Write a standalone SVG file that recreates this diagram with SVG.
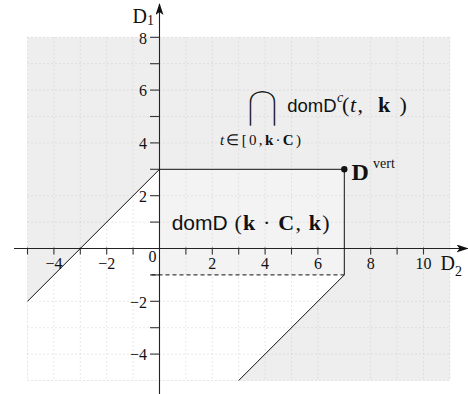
<svg xmlns="http://www.w3.org/2000/svg" width="468" height="394" viewBox="0 0 468 394">
<defs>
<style>
.num{font-family:"Liberation Serif",serif;font-size:16px;fill:#111}
.sf{font-family:"Liberation Sans",sans-serif;fill:#111}
.mr{font-family:"Liberation Serif",serif;fill:#111}
.it{font-style:italic}
.bf{font-weight:bold}
.grid line{stroke:#c8c8c8;stroke-width:0.8;stroke-dasharray:1 3}
.ax{stroke:#222;stroke-width:1.1;fill:none}
.tk{stroke:#333;stroke-width:1.1}
.ln{stroke:#111;stroke-width:1;fill:none}
</style>
<marker id="arr" viewBox="0 0 12 8" refX="11" refY="4" markerWidth="12" markerHeight="8" markerUnits="userSpaceOnUse" orient="auto">
<path d="M0,0 L12,4 L0,8 L3,4 Z" fill="#111"/>
</marker>
</defs>
<g id="regions">
<rect x="27.5" y="37.3" width="422.4" height="343.2" fill="#eeeeee"/>
<polygon points="27.5,301.3 159.5,169.3 159.5,274.9 344.3,274.9 238.7,380.5 27.5,380.5" fill="#ffffff"/>
<rect id="domD" x="159.5" y="169.3" width="184.8" height="105.6" fill="#f3f3f3"/>
</g>
<g class="grid" id="grid">
<line x1="27.5" y1="37.3" x2="27.5" y2="380.5"/><line x1="53.9" y1="37.3" x2="53.9" y2="380.5"/><line x1="80.3" y1="37.3" x2="80.3" y2="380.5"/><line x1="106.7" y1="37.3" x2="106.7" y2="380.5"/><line x1="133.1" y1="37.3" x2="133.1" y2="380.5"/><line x1="185.9" y1="37.3" x2="185.9" y2="380.5"/><line x1="212.3" y1="37.3" x2="212.3" y2="380.5"/><line x1="238.7" y1="37.3" x2="238.7" y2="380.5"/><line x1="265.1" y1="37.3" x2="265.1" y2="380.5"/><line x1="291.5" y1="37.3" x2="291.5" y2="380.5"/><line x1="317.9" y1="37.3" x2="317.9" y2="380.5"/><line x1="370.7" y1="37.3" x2="370.7" y2="380.5"/><line x1="397.1" y1="37.3" x2="397.1" y2="380.5"/><line x1="423.5" y1="37.3" x2="423.5" y2="380.5"/><line x1="449.9" y1="37.3" x2="449.9" y2="380.5"/>
<line x1="27.5" y1="37.3" x2="449.9" y2="37.3"/><line x1="27.5" y1="63.7" x2="449.9" y2="63.7"/><line x1="27.5" y1="90.1" x2="449.9" y2="90.1"/><line x1="27.5" y1="116.5" x2="449.9" y2="116.5"/><line x1="27.5" y1="142.9" x2="449.9" y2="142.9"/><line x1="27.5" y1="195.7" x2="449.9" y2="195.7"/><line x1="27.5" y1="222.1" x2="449.9" y2="222.1"/><line x1="27.5" y1="301.3" x2="449.9" y2="301.3"/><line x1="27.5" y1="327.7" x2="449.9" y2="327.7"/><line x1="27.5" y1="354.1" x2="449.9" y2="354.1"/><line x1="27.5" y1="380.5" x2="449.9" y2="380.5"/>
</g>
<g id="axes">
<line class="ax" x1="14" y1="248.5" x2="467.5" y2="248.5" marker-end="url(#arr)"/>
<line class="ax" x1="159.5" y1="394" x2="159.5" y2="4" marker-end="url(#arr)"/>
<g class="tk">
<line x1="27.5" y1="247.5" x2="27.5" y2="254.5"/><line x1="53.9" y1="247.5" x2="53.9" y2="254.5"/><line x1="80.3" y1="247.5" x2="80.3" y2="254.5"/><line x1="106.7" y1="247.5" x2="106.7" y2="254.5"/><line x1="133.1" y1="247.5" x2="133.1" y2="254.5"/><line x1="185.9" y1="247.5" x2="185.9" y2="254.5"/><line x1="212.3" y1="247.5" x2="212.3" y2="254.5"/><line x1="238.7" y1="247.5" x2="238.7" y2="254.5"/><line x1="265.1" y1="247.5" x2="265.1" y2="254.5"/><line x1="291.5" y1="247.5" x2="291.5" y2="254.5"/><line x1="317.9" y1="247.5" x2="317.9" y2="254.5"/><line x1="370.7" y1="247.5" x2="370.7" y2="254.5"/><line x1="397.1" y1="247.5" x2="397.1" y2="254.5"/><line x1="423.5" y1="247.5" x2="423.5" y2="254.5"/>
<line x1="150" y1="37.3" x2="159.5" y2="37.3"/><line x1="150" y1="63.7" x2="159.5" y2="63.7"/><line x1="150" y1="90.1" x2="159.5" y2="90.1"/><line x1="150" y1="116.5" x2="159.5" y2="116.5"/><line x1="150" y1="142.9" x2="159.5" y2="142.9"/><line x1="150" y1="169.3" x2="159.5" y2="169.3"/><line x1="150" y1="195.7" x2="159.5" y2="195.7"/><line x1="150" y1="222.1" x2="159.5" y2="222.1"/><line x1="150" y1="274.9" x2="159.5" y2="274.9"/><line x1="150" y1="301.3" x2="159.5" y2="301.3"/><line x1="150" y1="327.7" x2="159.5" y2="327.7"/><line x1="150" y1="354.1" x2="159.5" y2="354.1"/>
</g>
<g class="num" text-anchor="middle">
<text x="53.9" y="269">−4</text><text x="106.7" y="269">−2</text><text x="212.3" y="269">2</text><text x="265.1" y="269">4</text><text x="317.9" y="269">6</text><text x="370.7" y="269">8</text><text x="423.5" y="269">10</text>
<text x="152.5" y="262">0</text>
</g>
<g class="num" text-anchor="end">
<text x="147" y="43.5">8</text><text x="147" y="96.3">6</text><text x="147" y="149.1">4</text><text x="147" y="201.9">2</text><text x="147" y="307.5">−2</text><text x="147" y="360.3">−4</text>
</g>
<text class="mr" x="132.5" y="22.7" font-size="20">D<tspan font-size="14" dy="2.5">1</tspan></text>
<text class="mr" x="440.5" y="270.3" font-size="20">D<tspan font-size="14" dy="6">2</tspan></text>
</g>
<g id="connectors">
<polyline class="ln" points="27.5,301.3 159.5,169.3 344.3,169.3 344.3,274.9 238.7,380.5"/>
<line class="ln" x1="151.5" y1="274.9" x2="344.3" y2="274.9" stroke-dasharray="4 3"/>
</g>
<g id="vertex">
<circle cx="344.3" cy="169.3" r="3.2" fill="#111"/>
<text class="mr bf" x="351.5" y="179.5" font-size="24">D</text>
<text class="mr" x="373" y="168" font-size="14">vert</text>
</g>
<g id="label-intersection">
<text x="262.5" y="119" font-family="'DejaVu Sans',sans-serif" font-size="40" fill="#111" stroke="#eeeeee" stroke-width="1.8" text-anchor="middle">⋂</text>
<text class="sf" x="287.3" y="111.5" font-size="18.5">domD</text>
<text class="mr it" x="337" y="102" font-size="14">c</text>
<text class="mr" y="111.5" font-size="22"><tspan x="342">(</tspan><tspan class="it" x="350">t</tspan><tspan x="357.5">,</tspan><tspan class="bf" x="378">k</tspan><tspan x="399.5">)</tspan></text>
<text class="mr" x="220" y="145" font-size="15" textLength="81" lengthAdjust="spacing"><tspan class="it">t</tspan>∈[0,<tspan class="bf">k</tspan>·<tspan class="bf">C</tspan>)</text>
</g>
<g id="label-domD">
<text class="sf" x="171.7" y="229.5" font-size="21">domD</text>
<text class="mr" x="234.5" y="229.5" font-size="22" textLength="95" lengthAdjust="spacing">(<tspan class="bf">k</tspan> · <tspan class="bf">C</tspan>, <tspan class="bf">k</tspan>)</text>
</g>
</svg>
